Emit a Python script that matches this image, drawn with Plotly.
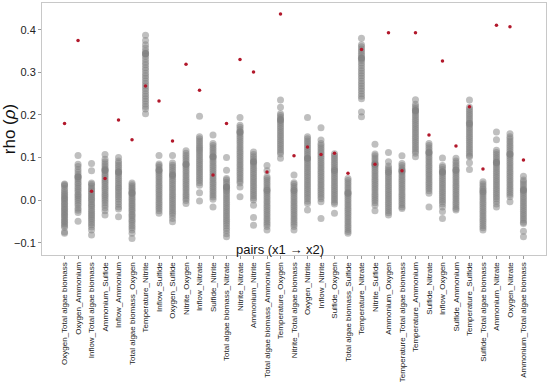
import plotly.graph_objects as go

pairs = ["Oxygen_Total algae biomass", "Oxygen_Ammonium", "Inflow_Total algae biomass",
         "Ammonium_Sulfide", "Inflow_Ammonium", "Total algae biomass_Oxygen",
         "Temperature_Nitrite", "Inflow_Sulfide", "Oxygen_Sulfide", "Nitrite_Oxygen",
         "Inflow_Nitrate", "Sulfide_Nitrite", "Total algae biomass_Nitrate", "Nitrite_Nitrate",
         "Ammonium_Nitrite", "Total algae biomass_Ammonium", "Temperature_Oxygen",
         "Nitrite_Total algae biomass", "Oxygen_Nitrite", "Inflow_Nitrite", "Sulfide_Oxygen",
         "Total algae biomass_Sulfide", "Temperature_Nitrate", "Nitrite_Sulfide",
         "Ammonium_Oxygen", "Temperature_Total algae biomass", "Temperature_Ammonium",
         "Sulfide_Nitrate", "Inflow_Oxygen", "Sulfide_Ammonium", "Temperature_Sulfide",
         "Sulfide_Total algae biomass", "Ammonium_Nitrate", "Oxygen_Nitrate",
         "Ammonium_Total algae biomass"]

observed_rho = [0.18, 0.375, 0.021, 0.051, 0.188, 0.142, 0.268, 0.233, 0.139, 0.319,
                0.258, 0.059, 0.18, 0.33, 0.301, 0.066, 0.437, 0.104, 0.125, 0.107,
                0.11, 0.063, 0.354, 0.084, 0.393, 0.069, 0.393, 0.153, 0.327, 0.127,
                0.219, 0.073, 0.411, 0.407, 0.094]

surrogate_rho = [
    [0.038, 0.036, 0.033, 0.027, 0.022, 0.018, 0.014, 0.01, 0.006, 0.003, 0.0, -0.004, -0.008, -0.011, -0.015, -0.019, -0.022, -0.026, -0.03, -0.034, -0.037, -0.041, -0.045, -0.049, -0.052, -0.056, -0.06, -0.064, -0.075, -0.078],
    [0.105, 0.084, 0.079, 0.072, 0.066, 0.06, 0.055, 0.055, 0.054, 0.05, 0.046, 0.041, 0.037, 0.032, 0.028, 0.023, 0.019, 0.014, 0.01, 0.006, 0.002, -0.003, -0.008, -0.013, -0.019, -0.024, -0.029, -0.05],
    [0.086, 0.069, 0.04, 0.037, 0.033, 0.028, 0.024, 0.02, 0.016, 0.012, 0.008, 0.004, 0.0, -0.004, -0.009, -0.013, -0.017, -0.022, -0.026, -0.031, -0.035, -0.039, -0.044, -0.048, -0.053, -0.058, -0.063, -0.07, -0.082],
    [0.107, 0.096, 0.09, 0.085, 0.08, 0.075, 0.071, 0.07, 0.069, 0.065, 0.06, 0.056, 0.051, 0.046, 0.042, 0.037, 0.032, 0.028, 0.023, 0.018, 0.013, 0.009, 0.004, -0.001, -0.006, -0.012, -0.018, -0.025, -0.035],
    [0.1, 0.092, 0.087, 0.082, 0.077, 0.072, 0.067, 0.066, 0.065, 0.061, 0.056, 0.051, 0.046, 0.041, 0.036, 0.031, 0.027, 0.022, 0.017, 0.012, 0.007, 0.002, -0.004, -0.01, -0.016, -0.021, -0.039],
    [0.04, 0.036, 0.032, 0.028, 0.024, 0.02, 0.017, 0.016, 0.015, 0.011, 0.006, 0.002, -0.002, -0.007, -0.011, -0.015, -0.02, -0.024, -0.028, -0.033, -0.037, -0.041, -0.046, -0.05, -0.055, -0.06, -0.065, -0.07, -0.078, -0.09],
    [0.387, 0.375, 0.365, 0.357, 0.35, 0.345, 0.344, 0.343, 0.338, 0.331, 0.324, 0.318, 0.311, 0.305, 0.298, 0.292, 0.286, 0.28, 0.274, 0.268, 0.262, 0.256, 0.25, 0.244, 0.238, 0.232, 0.226, 0.22, 0.214, 0.203],
    [0.105, 0.085, 0.081, 0.077, 0.072, 0.07, 0.069, 0.065, 0.06, 0.055, 0.05, 0.045, 0.04, 0.035, 0.03, 0.025, 0.02, 0.015, 0.01, 0.005, 0.0, -0.005, -0.01, -0.015, -0.02, -0.025, -0.031],
    [0.105, 0.087, 0.082, 0.077, 0.072, 0.067, 0.062, 0.059, 0.058, 0.054, 0.049, 0.044, 0.039, 0.034, 0.029, 0.024, 0.019, 0.014, 0.009, 0.004, -0.001, -0.006, -0.011, -0.016, -0.021, -0.026, -0.031, -0.036, -0.043, -0.051],
    [0.116, 0.11, 0.105, 0.1, 0.095, 0.09, 0.085, 0.084, 0.083, 0.079, 0.074, 0.069, 0.064, 0.059, 0.054, 0.049, 0.044, 0.039, 0.034, 0.029, 0.024, 0.019, 0.014, 0.009, 0.004, -0.001, -0.008],
    [0.197, 0.149, 0.144, 0.139, 0.134, 0.129, 0.124, 0.12, 0.116, 0.111, 0.106, 0.101, 0.096, 0.091, 0.086, 0.081, 0.076, 0.071, 0.066, 0.061, 0.056, 0.051, 0.046, 0.041, 0.035, 0.017, -0.002],
    [0.153, 0.133, 0.128, 0.123, 0.118, 0.113, 0.108, 0.103, 0.102, 0.101, 0.097, 0.092, 0.087, 0.082, 0.077, 0.072, 0.067, 0.062, 0.057, 0.052, 0.047, 0.042, 0.037, 0.032, 0.027, 0.022, 0.017, 0.012, 0.007, 0.002, -0.016],
    [0.1, 0.07, 0.051, 0.047, 0.042, 0.037, 0.032, 0.031, 0.03, 0.027, 0.023, 0.02, 0.015, 0.01, 0.005, 0.0, -0.005, -0.01, -0.015, -0.02, -0.025, -0.03, -0.035, -0.04, -0.045, -0.05, -0.055, -0.06, -0.066, -0.072, -0.079, -0.086],
    [0.194, 0.176, 0.171, 0.166, 0.161, 0.16, 0.159, 0.155, 0.15, 0.145, 0.14, 0.135, 0.13, 0.125, 0.12, 0.115, 0.11, 0.105, 0.1, 0.095, 0.09, 0.085, 0.08, 0.075, 0.07, 0.065, 0.06, 0.055, 0.05, 0.045, 0.04, 0.031, 0.008],
    [0.113, 0.107, 0.102, 0.097, 0.092, 0.09, 0.089, 0.085, 0.08, 0.075, 0.07, 0.065, 0.06, 0.055, 0.05, 0.045, 0.04, 0.035, 0.03, 0.025, 0.02, 0.015, 0.01, 0.005, 0.0, -0.012, -0.041, -0.059],
    [0.081, 0.069, 0.055, 0.051, 0.046, 0.041, 0.036, 0.031, 0.026, 0.023, 0.022, 0.018, 0.013, 0.008, 0.003, -0.002, -0.007, -0.012, -0.017, -0.022, -0.027, -0.032, -0.037, -0.042, -0.047, -0.052, -0.057, -0.062, -0.07],
    [0.235, 0.218, 0.203, 0.199, 0.194, 0.19, 0.188, 0.187, 0.183, 0.178, 0.173, 0.168, 0.163, 0.158, 0.153, 0.148, 0.143, 0.138, 0.133, 0.128, 0.123, 0.118, 0.113, 0.108, 0.098],
    [0.059, 0.041, 0.037, 0.032, 0.027, 0.023, 0.022, 0.018, 0.013, 0.008, 0.003, -0.002, -0.007, -0.012, -0.017, -0.022, -0.027, -0.032, -0.037, -0.042, -0.047, -0.052, -0.057, -0.062, -0.07],
    [0.194, 0.149, 0.144, 0.139, 0.134, 0.129, 0.124, 0.119, 0.114, 0.109, 0.104, 0.099, 0.098, 0.097, 0.093, 0.088, 0.083, 0.078, 0.073, 0.068, 0.063, 0.058, 0.053, 0.048, 0.043, 0.038, 0.033, 0.028, 0.023, 0.018, 0.013, 0.008, 0.003, -0.003, -0.008, -0.023],
    [0.17, 0.141, 0.133, 0.128, 0.123, 0.118, 0.113, 0.108, 0.103, 0.098, 0.093, 0.088, 0.083, 0.078, 0.073, 0.068, 0.063, 0.058, 0.053, 0.048, 0.043, 0.038, 0.033, 0.028, 0.023, 0.018, 0.013, 0.008, 0.003, -0.004, -0.043],
    [0.109, 0.104, 0.099, 0.094, 0.089, 0.084, 0.079, 0.074, 0.07, 0.069, 0.065, 0.06, 0.055, 0.05, 0.045, 0.04, 0.035, 0.03, 0.025, 0.02, 0.015, 0.01, 0.005, 0.0, -0.005, -0.009, -0.031],
    [0.051, 0.046, 0.041, 0.036, 0.031, 0.026, 0.021, 0.017, 0.016, 0.015, 0.011, 0.006, 0.001, -0.004, -0.009, -0.014, -0.019, -0.024, -0.029, -0.034, -0.039, -0.044, -0.049, -0.054, -0.059, -0.064, -0.069, -0.074, -0.078],
    [0.38, 0.365, 0.36, 0.355, 0.35, 0.345, 0.34, 0.335, 0.333, 0.332, 0.328, 0.322, 0.316, 0.31, 0.304, 0.298, 0.292, 0.286, 0.28, 0.274, 0.268, 0.262, 0.256, 0.25, 0.244, 0.238, 0.207, 0.196],
    [0.131, 0.108, 0.104, 0.099, 0.094, 0.089, 0.085, 0.084, 0.083, 0.079, 0.074, 0.069, 0.064, 0.059, 0.054, 0.049, 0.044, 0.039, 0.034, 0.029, 0.024, 0.019, 0.014, 0.009, 0.004, -0.001, -0.006, -0.012, -0.025],
    [0.112, 0.09, 0.08, 0.075, 0.07, 0.066, 0.065, 0.06, 0.055, 0.05, 0.045, 0.04, 0.035, 0.03, 0.025, 0.02, 0.015, 0.01, 0.005, 0.0, -0.005, -0.01, -0.015, -0.02, -0.025, -0.03, -0.035],
    [0.104, 0.086, 0.081, 0.076, 0.071, 0.069, 0.068, 0.064, 0.059, 0.054, 0.049, 0.044, 0.039, 0.034, 0.029, 0.024, 0.019, 0.014, 0.009, 0.004, -0.001, -0.006, -0.011, -0.016, -0.02],
    [0.236, 0.225, 0.22, 0.215, 0.211, 0.21, 0.209, 0.205, 0.2, 0.195, 0.19, 0.185, 0.18, 0.175, 0.17, 0.165, 0.16, 0.155, 0.15, 0.145, 0.14, 0.135, 0.13, 0.125, 0.12, 0.115, 0.11, 0.102],
    [0.133, 0.128, 0.123, 0.118, 0.113, 0.112, 0.111, 0.107, 0.102, 0.097, 0.092, 0.087, 0.082, 0.077, 0.072, 0.067, 0.062, 0.057, 0.052, 0.047, 0.042, 0.037, 0.032, 0.027, 0.022, 0.016, -0.016],
    [0.099, 0.081, 0.077, 0.072, 0.067, 0.066, 0.065, 0.061, 0.056, 0.051, 0.046, 0.041, 0.036, 0.031, 0.026, 0.021, 0.016, 0.011, 0.006, 0.001, -0.004, -0.009, -0.016, -0.027, -0.043],
    [0.098, 0.092, 0.087, 0.082, 0.077, 0.072, 0.07, 0.069, 0.065, 0.06, 0.055, 0.05, 0.045, 0.04, 0.035, 0.03, 0.025, 0.02, 0.015, 0.01, 0.005, 0.0, -0.005, -0.01, -0.015, -0.02, -0.023],
    [0.235, 0.218, 0.213, 0.208, 0.203, 0.198, 0.193, 0.188, 0.183, 0.18, 0.179, 0.175, 0.17, 0.165, 0.16, 0.155, 0.15, 0.145, 0.14, 0.135, 0.13, 0.125, 0.12, 0.115, 0.11, 0.105, 0.102, 0.088, 0.072],
    [0.043, 0.038, 0.033, 0.028, 0.024, 0.02, 0.019, 0.015, 0.01, 0.005, 0.0, -0.005, -0.01, -0.015, -0.02, -0.025, -0.03, -0.035, -0.04, -0.045, -0.05, -0.055, -0.06, -0.065, -0.07],
    [0.16, 0.142, 0.117, 0.112, 0.107, 0.102, 0.097, 0.092, 0.089, 0.088, 0.087, 0.083, 0.078, 0.073, 0.068, 0.063, 0.058, 0.053, 0.048, 0.043, 0.038, 0.033, 0.028, 0.023, 0.018, 0.013, 0.008, 0.003, -0.003, -0.009, -0.016],
    [0.156, 0.149, 0.144, 0.139, 0.134, 0.129, 0.124, 0.119, 0.114, 0.109, 0.108, 0.107, 0.103, 0.098, 0.093, 0.088, 0.083, 0.078, 0.073, 0.068, 0.063, 0.058, 0.053, 0.048, 0.043, 0.038, 0.033, 0.028, 0.023, 0.018, 0.013, 0.008, -0.004],
    [0.056, 0.047, 0.043, 0.038, 0.033, 0.028, 0.024, 0.023, 0.022, 0.018, 0.013, 0.008, 0.003, -0.002, -0.007, -0.012, -0.017, -0.022, -0.027, -0.032, -0.037, -0.042, -0.047, -0.052, -0.055, -0.073, -0.086],
]

y_ticks = [-0.1, 0.0, 0.1, 0.2, 0.3, 0.4]

gx, gy = [], []
for i, vals in enumerate(surrogate_rho):
    gx += [i] * len(vals)
    gy += vals

fig = go.Figure()
fig.add_trace(go.Scatter(
    x=gx, y=gy, mode="markers",
    marker=dict(size=7, color="rgba(128,128,128,0.5)", line=dict(width=0)),
    showlegend=False, hoverinfo="y"))
fig.add_trace(go.Scatter(
    x=list(range(len(pairs))), y=observed_rho, mode="markers",
    marker=dict(size=3.5, color="#b2182b", line=dict(width=0)),
    showlegend=False, hoverinfo="y"))

fig.update_layout(
    width=550, height=386,
    margin=dict(l=42, r=4, t=3, b=131),
    paper_bgcolor="white", plot_bgcolor="white",
    font=dict(family="Liberation Sans, Arial, sans-serif", color="#222"),
    xaxis=dict(
        range=[-1.67, 35.67], tickmode="array",
        tickvals=list(range(len(pairs))), ticktext=pairs,
        tickangle=-90, automargin=False,
        tickfont=dict(size=8, color="#222", family="Liberation Sans, Arial, sans-serif"),
        showgrid=False, zeroline=False,
        showline=True, linecolor="#c8c8c8", linewidth=1, mirror=True,
        ticks="outside", ticklen=3, tickcolor="#999",
    ),
    yaxis=dict(
        range=[-0.129, 0.463], tickmode="array", tickvals=y_ticks, automargin=False,
        ticktext=[f"{v:.1f}".replace("-", "\u2212") for v in y_ticks],
        tickfont=dict(size=11, color="#222"),
        showgrid=False, zeroline=False,
        showline=True, linecolor="#c8c8c8", linewidth=1, mirror=True,
        ticks="outside", ticklen=3, tickcolor="#999",
        title=dict(text="rho (<i>ρ</i>)", font=dict(size=17, color="#111"), standoff=8),
    ),
    annotations=[dict(
        text="pairs (x1 \u2192 x2)", xref="paper", yref="paper",
        x=(280 - 42) / (550 - 46), y=(386 - 131 - 249) / (386 - 134),
        xanchor="center", yanchor="middle", showarrow=False,
        font=dict(size=13, color="#111"))],
)

fig.write_html("out.html", config={"displayModeBar": False},
               post_script="document.body.style.margin='0';document.body.style.padding='0';")
